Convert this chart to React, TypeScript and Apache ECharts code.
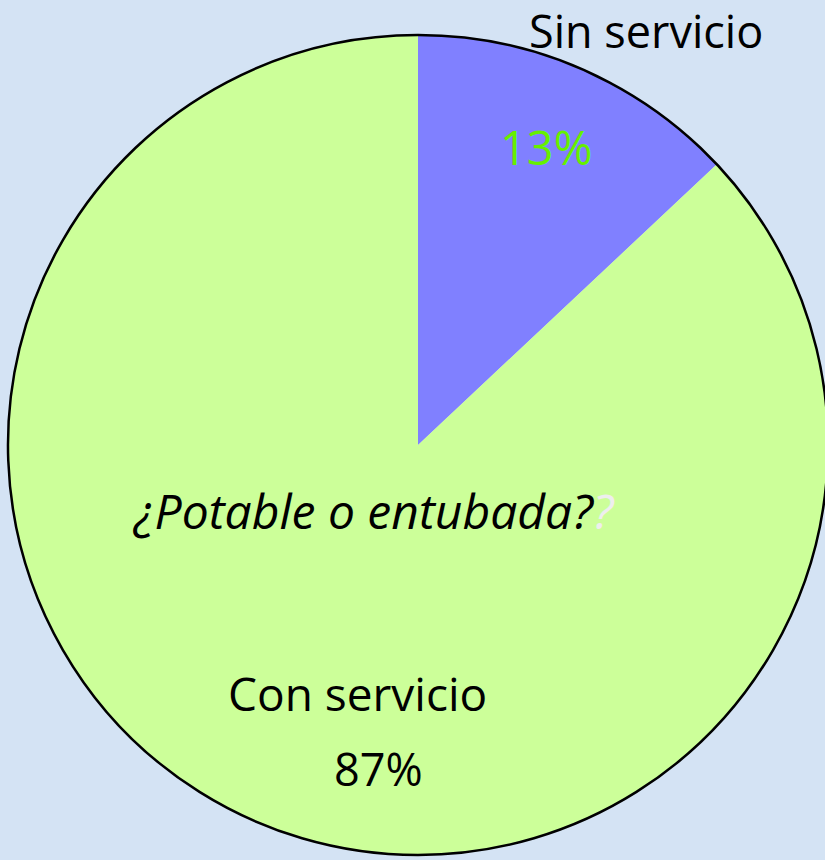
import React, { useEffect, useRef } from "react";
import * as echarts from "echarts";

const categories = ["Sin servicio", "Con servicio"];
const values = [13, 87];
const sliceColors = ["#8080ff", "#ccff99"];
const questionText = "¿Potable o entubada?";

export default function App() {
  const ref = useRef<HTMLDivElement>(null);
  useEffect(() => {
    document.body.style.margin = "0";
    const chart = echarts.init(ref.current!, null, { renderer: "svg" });
    const font = "'Open Sans', Lato, sans-serif";
    const txt = (text: string, x: number, y: number, size: number, fill: string) => ({
      type: "text",
      x,
      y,
      z: 100,
      silent: true,
      style: {
        text,
        font: `${size}px ${font}`,
        fill,
        align: "left",
        verticalAlign: "middle",
      },
    });
    chart.setOption({
      animation: false,
      backgroundColor: "#d4e3f4",
      series: [
        {
          type: "pie",
          center: [418, 445],
          radius: [0, 410],
          startAngle: 90,
          clockwise: true,
          silent: true,
          label: { show: false },
          labelLine: { show: false },
          itemStyle: { borderWidth: 0 },
          data: categories.map((c, i) => ({
            name: c,
            value: values[i],
            itemStyle: { color: sliceColors[i] },
          })),
        },
        {
          type: "pie",
          center: [418, 445],
          radius: [0, 410],
          silent: true,
          label: { show: false },
          labelLine: { show: false },
          itemStyle: { color: "rgba(0,0,0,0)", borderColor: "#000", borderWidth: 2.5 },
          data: [{ name: "outline", value: 1 }],
        },
      ],
      graphic: [
        txt(categories[0], 529, 30, 45, "#000"),
        txt(values[0] + "%", 500, 147, 47, "#66f000"),
        {
          type: "text",
          x: 134,
          y: 510,
          z: 100,
          silent: true,
          style: {
            text: "{a|" + questionText + "}{b|?}",
            align: "left",
            verticalAlign: "middle",
            rich: {
              a: { fontFamily: font, fontStyle: "italic", fontSize: 48, fill: "#000" },
              b: { fontFamily: font, fontStyle: "italic", fontSize: 48, fill: "#eeeeee" },
            },
          },
        },
        txt(categories[1], 228, 693, 46, "#000"),
        txt(values[1] + "%", 334, 768, 45, "#000"),
      ],
    });
    return () => chart.dispose();
  }, []);
  return <div ref={ref} style={{ width: 825, height: 860 }} />;
}
